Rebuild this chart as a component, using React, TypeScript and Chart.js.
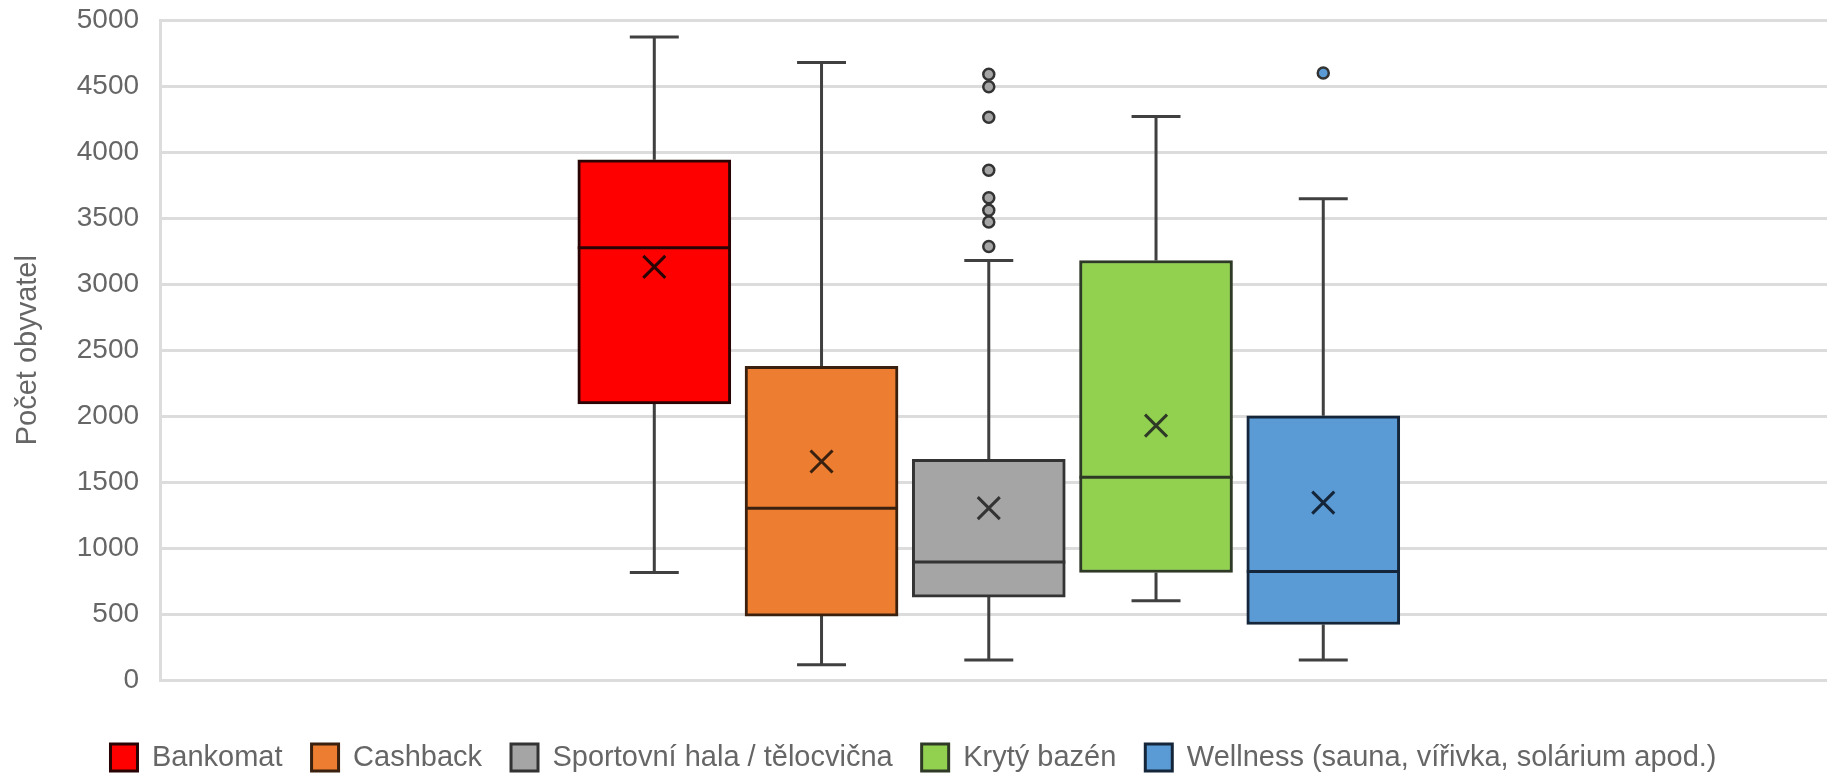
import React, { useEffect, useRef } from 'react';
import { Chart, registerables } from 'chart.js';

Chart.register(...registerables);

// ---- data ----
const categories = [
  'Bankomat',
  'Cashback',
  'Sportovní hala / tělocvična',
  'Krytý bazén',
  'Wellness (sauna, vířivka, solárium apod.)',
];
const positions = [1, 2, 3, 4, 5];
const minValues = [817, 119, 154, 603, 154];
const q1Values = [2093, 487, 631, 817, 423];
const medianValues = [3276, 1304, 897, 1538, 824];
const q3Values = [3942, 2378, 1673, 3179, 2003];
const maxValues = [4872, 4679, 3179, 4269, 3647];
const meanValues = [3131, 1657, 1304, 1929, 1346];
const outlierValues: number[][] = [
  [],
  [],
  [4590, 4495, 4263, 3862, 3654, 3560, 3471, 3285],
  [],
  [4599],
];
const yTickValues = [0, 500, 1000, 1500, 2000, 2500, 3000, 3500, 4000, 4500, 5000];
const yAxisTitle = 'Počet obyvatel';

// ---- styles ----
const fillColors = ['#ff0000', '#ed7d31', '#a5a5a5', '#92d050', '#5b9bd5'];
const edgeColors = ['#2a0404', '#3a200e', '#333333', '#2f3a26', '#15263a'];
const FONT = "'Liberation Sans', Arial, sans-serif";
const TEXT_COLOR = '#666666';
const GRID_COLOR = '#dcdcdc';
const WHISKER_COLOR = '#404040';

const boxExtras = {
  id: 'boxExtras',
  beforeDatasetsDraw(chart: any) {
    const { ctx, scales } = chart;
    const y = scales.y;
    ctx.save();
    ctx.strokeStyle = WHISKER_COLOR;
    ctx.lineWidth = 3;
    categories.forEach((_, i) => {
      const el = chart.getDatasetMeta(i).data[0];
      if (!el) return;
      const { x, width } = el.getProps(['x', 'width'], true);
      const capHalf = width * 0.16;
      const yMax = y.getPixelForValue(maxValues[i]);
      const yQ3 = y.getPixelForValue(q3Values[i]);
      const yQ1 = y.getPixelForValue(q1Values[i]);
      const yMin = y.getPixelForValue(minValues[i]);
      ctx.beginPath();
      ctx.moveTo(x, yQ3);
      ctx.lineTo(x, yMax);
      ctx.moveTo(x - capHalf, yMax);
      ctx.lineTo(x + capHalf, yMax);
      ctx.moveTo(x, yQ1);
      ctx.lineTo(x, yMin);
      ctx.moveTo(x - capHalf, yMin);
      ctx.lineTo(x + capHalf, yMin);
      ctx.stroke();
    });
    ctx.restore();
  },
  afterDatasetsDraw(chart: any) {
    const { ctx, scales } = chart;
    const y = scales.y;
    ctx.save();
    categories.forEach((_, i) => {
      const el = chart.getDatasetMeta(i).data[0];
      if (!el) return;
      const { x, width } = el.getProps(['x', 'width'], true);
      // median
      const yMed = y.getPixelForValue(medianValues[i]);
      ctx.strokeStyle = edgeColors[i];
      ctx.lineWidth = 3;
      ctx.beginPath();
      ctx.moveTo(x - width / 2, yMed);
      ctx.lineTo(x + width / 2, yMed);
      ctx.stroke();
      // mean X
      const yMean = y.getPixelForValue(meanValues[i]);
      const s = width * 0.072;
      ctx.lineWidth = 3;
      ctx.beginPath();
      ctx.moveTo(x - s, yMean - s);
      ctx.lineTo(x + s, yMean + s);
      ctx.moveTo(x + s, yMean - s);
      ctx.lineTo(x - s, yMean + s);
      ctx.stroke();
      // outliers
      outlierValues[i].forEach((v) => {
        const py = y.getPixelForValue(v);
        ctx.beginPath();
        ctx.arc(x, py, 5.5, 0, Math.PI * 2);
        ctx.fillStyle = fillColors[i];
        ctx.fill();
        ctx.lineWidth = 2.5;
        ctx.strokeStyle = '#333333';
        ctx.stroke();
      });
    });
    ctx.restore();
  },
};

export default function App() {
  const canvasRef = useRef<HTMLCanvasElement | null>(null);

  useEffect(() => {
    const canvas = canvasRef.current;
    if (!canvas) return;
    const datasets = categories.map((label, i) => ({
      label,
      data: [{ x: positions[i], y: [q1Values[i], q3Values[i]] }],
      backgroundColor: fillColors[i],
      borderColor: edgeColors[i],
      borderWidth: 3,
      borderSkipped: false,
      grouped: false,
      barThickness: 153,
    }));

    const chart = new Chart(canvas, {
      type: 'bar',
      data: { datasets } as any,
      plugins: [boxExtras],
      options: {
        responsive: false,
        animation: false,
        devicePixelRatio: 1,
        layout: { padding: { top: 20, right: 8, left: 0, bottom: 0 } },
        scales: {
          x: {
            type: 'linear',
            min: -1.955,
            max: 8.012,
            offset: false,
            grid: { display: false, drawTicks: false },
            border: { display: false },
            ticks: { display: false },
            title: {
              display: true,
              text: '',
              font: { size: 28, family: FONT },
              padding: 0,
            },
          },
          y: {
            min: 0,
            max: 5000,
            afterBuildTicks: (scale: any) => {
              scale.ticks = yTickValues.map((v) => ({ value: v }));
            },
            grid: {
              color: GRID_COLOR,
              lineWidth: 3,
              drawTicks: true,
              tickLength: 21,
              tickColor: 'rgba(0,0,0,0)',
            },
            border: { display: true, color: GRID_COLOR, width: 3 },
            ticks: {
              padding: 0,
              color: TEXT_COLOR,
              font: { size: 28, family: FONT },
              callback: (value: any) => String(value),
            },
            title: {
              display: true,
              text: yAxisTitle,
              color: TEXT_COLOR,
              font: { size: 29, family: FONT },
              padding: { top: 11, bottom: 31 },
            },
          },
        },
        plugins: {
          tooltip: { enabled: false },
          legend: {
            position: 'bottom',
            labels: {
              boxWidth: 27,
              boxHeight: 27,
              padding: 29,
              color: TEXT_COLOR,
              font: { size: 29, family: FONT },
            },
          },
        },
      } as any,
    });
    return () => chart.destroy();
  }, []);

  return (
    <div style={{ position: 'fixed', left: 0, top: 0, width: 1835, height: 782, background: '#ffffff' }}>
      <canvas ref={canvasRef} width={1835} height={782} style={{ display: 'block' }} />
    </div>
  );
}
